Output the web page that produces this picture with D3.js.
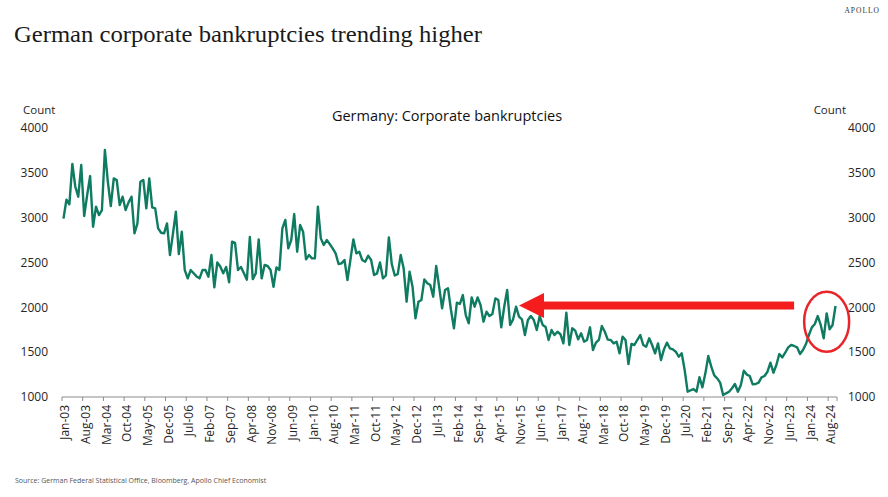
<!DOCTYPE html>
<html>
<head>
<meta charset="utf-8">
<script src="https://cdn.jsdelivr.net/npm/d3@7/dist/d3.min.js"></script>
<style>
  body { margin: 0; background: #fff; }
  svg text { font-family: "Open Sans", "Noto Sans", sans-serif; fill: #262626; }
</style>
</head>
<body>
<div id="chart"></div>
<script>
// monthly corporate bankruptcies in Germany, Jan-03 .. Oct-24
const y2003 = [2990,3200,3150,3600,3345,3234,3587,3018,3250,3464,2899,3122];
const y2004 = [3029,3085,3754,3400,3130,3438,3420,3141,3234,3085,3170,3234];
const y2005 = [2825,2936,3401,3420,3104,3438,3115,3104,2881,2832,2825,2936];
const y2006 = [2583,2820,3066,2594,2843,2416,2323,2416,2380,2345,2323,2416];
const y2007 = [2416,2341,2583,2223,2500,2455,2379,2450,2280,2732,2718,2416];
const y2008 = [2450,2379,2308,2784,2315,2379,2758,2323,2472,2461,2416,2230];
const y2009 = [2446,2416,2881,2974,2658,2751,3040,2620,2918,2843,2535,2583];
const y2010 = [2546,2546,3122,2769,2695,2751,2706,2658,2602,2483,2490,2528];
const y2011 = [2305,2530,2758,2602,2620,2528,2509,2576,2528,2360,2379,2500];
const y2012 = [2323,2355,2780,2480,2355,2370,2583,2435,2063,2397,2230,1877];
const y2013 = [2063,2082,2312,2268,2249,2119,2461,2230,1989,2193,2212,1970];
const y2014 = [1766,2052,2037,2137,1914,1821,2111,2007,2111,2026,1840,1951];
const y2015 = [1903,1925,2100,2082,1777,2007,2193,1803,1866,2007,1896,1866];
const y2016 = [1691,1859,1903,1859,1747,1903,1803,1780,1636,1747,1691,1728];
const y2017 = [1700,1598,1940,1580,1766,1740,1643,1710,1617,1636,1777,1524];
const y2018 = [1606,1636,1792,1728,1640,1636,1598,1617,1487,1673,1636,1368];
const y2019 = [1591,1580,1636,1691,1580,1561,1654,1580,1487,1598,1413,1531];
const y2020 = [1606,1543,1531,1505,1449,1487,1301,1059,1075,1089,1059,1220];
const y2021 = [1108,1264,1457,1338,1240,1208,1160,1022,1041,1059,1097,1145];
const y2022 = [1059,1134,1294,1250,1234,1141,1145,1160,1219,1234,1282,1383];
const y2023 = [1271,1357,1479,1442,1494,1554,1580,1569,1554,1479,1524,1591];
const y2024 = [1691,1777,1814,1903,1803,1654,1933,1755,1803,2015];

const bankruptcies = [].concat(y2003,y2004,y2005,y2006,y2007,y2008,y2009,y2010,y2011,
  y2012,y2013,y2014,y2015,y2016,y2017,y2018,y2019,y2020,y2021,y2022,y2023,y2024);

// one label every 7 months, starting Jan-03
const xTickLabels = ["Jan-03","Aug-03","Mar-04","Oct-04","May-05","Dec-05","Jul-06","Feb-07",
  "Sep-07","Apr-08","Nov-08","Jun-09","Jan-10","Aug-10","Mar-11","Oct-11","May-12","Dec-12",
  "Jul-13","Feb-14","Sep-14","Apr-15","Nov-15","Jun-16","Jan-17","Aug-17","Mar-18","Oct-18",
  "May-19","Dec-19","Jul-20","Feb-21","Sep-21","Apr-22","Nov-22","Jun-23","Jan-24","Aug-24"];
const labelStep = 7;
const yTicks = [1000,1500,2000,2500,3000,3500,4000];

// annotation anchors (month index / count level)
const arrowFrom = 247, arrowTo = 154, arrowLevel = 2020;
const circleAt = 258, circleLevel = 1840;

const width = 888, height = 497;
const margin = {left: 62, right: 51, top: 128, bottom: 100};

const svg = d3.select("#chart").append("svg")
  .attr("width", width)
  .attr("height", height);

const x = d3.scaleBand()
  .domain(d3.range(bankruptcies.length))
  .range([margin.left, width - margin.right]);
const cx = i => x(i) + x.bandwidth() / 2;

const y = d3.scaleLinear()
  .domain([1000, 4000])
  .range([height - margin.bottom, margin.top]);

// titles
svg.append("text")
  .attr("x", 14).attr("y", 42)
  .attr("textLength", 468).attr("lengthAdjust", "spacingAndGlyphs")
  .style("font-family", "'Liberation Serif', 'DejaVu Serif', serif")
  .style("font-size", "24px").style("fill", "#1a1a1a")
  .text("German corporate bankruptcies trending higher");

svg.append("text")
  .attr("x", 880).attr("y", 13).attr("text-anchor", "end")
  .style("font-family", "'Liberation Serif', serif")
  .style("font-size", "7.5px").style("letter-spacing", "1px").style("fill", "#333")
  .text("APOLLO");

svg.append("text")
  .attr("x", 447).attr("y", 121).attr("text-anchor", "middle")
  .style("font-size", "14.5px").style("fill", "#111")
  .text("Germany: Corporate bankruptcies");

svg.append("text")
  .attr("x", 15).attr("y", 483)
  .style("font-size", "7px").style("fill", "#555")
  .text("Source: German Federal Statistical Office, Bloomberg, Apollo Chief Economist");

// y axes (left and right, same scale)
svg.append("text").attr("x", 23).attr("y", 114)
  .style("font-size", "11.5px").text("Count");
svg.append("text").attr("x", 846).attr("y", 114).attr("text-anchor", "end")
  .style("font-size", "11.5px").text("Count");

svg.selectAll(".ylab-l")
  .data(yTicks).enter()
  .append("text")
    .attr("class", "ylab-l")
    .attr("x", 48).attr("y", d => y(d)).attr("dy", "0.35em")
    .attr("text-anchor", "end")
    .style("font-size", "12px")
    .text(d => d);

svg.selectAll(".ylab-r")
  .data(yTicks).enter()
  .append("text")
    .attr("class", "ylab-r")
    .attr("x", 848).attr("y", d => y(d)).attr("dy", "0.35em")
    .style("font-size", "12px")
    .text(d => d);

// x axis
const base = y(1000);
svg.append("line")
  .attr("x1", margin.left).attr("x2", width - margin.right)
  .attr("y1", base).attr("y2", base)
  .attr("stroke", "#8c8c8c").attr("stroke-width", 1);

const tickIdx = xTickLabels.map((_, k) => k * labelStep);

svg.selectAll(".xtick")
  .data(tickIdx).enter()
  .append("line")
    .attr("class", "xtick")
    .attr("x1", d => x(d)).attr("x2", d => x(d))
    .attr("y1", base).attr("y2", base + 4)
    .attr("stroke", "#8c8c8c");
svg.append("line")
  .attr("x1", width - margin.right).attr("x2", width - margin.right)
  .attr("y1", base).attr("y2", base + 4)
  .attr("stroke", "#8c8c8c");

svg.selectAll(".xlab")
  .data(tickIdx).enter()
  .append("text")
    .attr("class", "xlab")
    .attr("text-anchor", "end")
    .attr("dy", "0.35em")
    .attr("transform", d => "translate(" + (cx(d) + 1.5) + "," + (base + 8) + ") rotate(-90)")
    .style("font-size", "12px")
    .text((d, k) => xTickLabels[k]);

// the series
const line = d3.line()
  .x((d, i) => cx(i))
  .y(d => y(d));

svg.append("path")
  .datum(bankruptcies)
  .attr("fill", "none")
  .attr("stroke", "#0f7b61")
  .attr("stroke-width", 2.4)
  .attr("stroke-linejoin", "round")
  .attr("d", line);

// red arrow pointing back to the 2015 level
const ay = y(arrowLevel);
const tipX = cx(arrowTo), tailX = cx(arrowFrom);
svg.append("rect")
  .attr("x", tipX + 24).attr("y", ay - 4)
  .attr("width", tailX - tipX - 24).attr("height", 8)
  .attr("fill", "#f41c1c");
svg.append("path")
  .attr("d", "M" + tipX + "," + ay + "L" + (tipX + 25) + "," + (ay - 12.5) + "L" + (tipX + 25) + "," + (ay + 12.5) + "Z")
  .attr("fill", "#f41c1c");

// circle around the latest readings
svg.append("ellipse")
  .attr("cx", cx(circleAt)).attr("cy", y(circleLevel))
  .attr("rx", 22.5).attr("ry", 30)
  .attr("fill", "none")
  .attr("stroke", "#e8262a")
  .attr("stroke-width", 2.5);
</script>
</body>
</html>
